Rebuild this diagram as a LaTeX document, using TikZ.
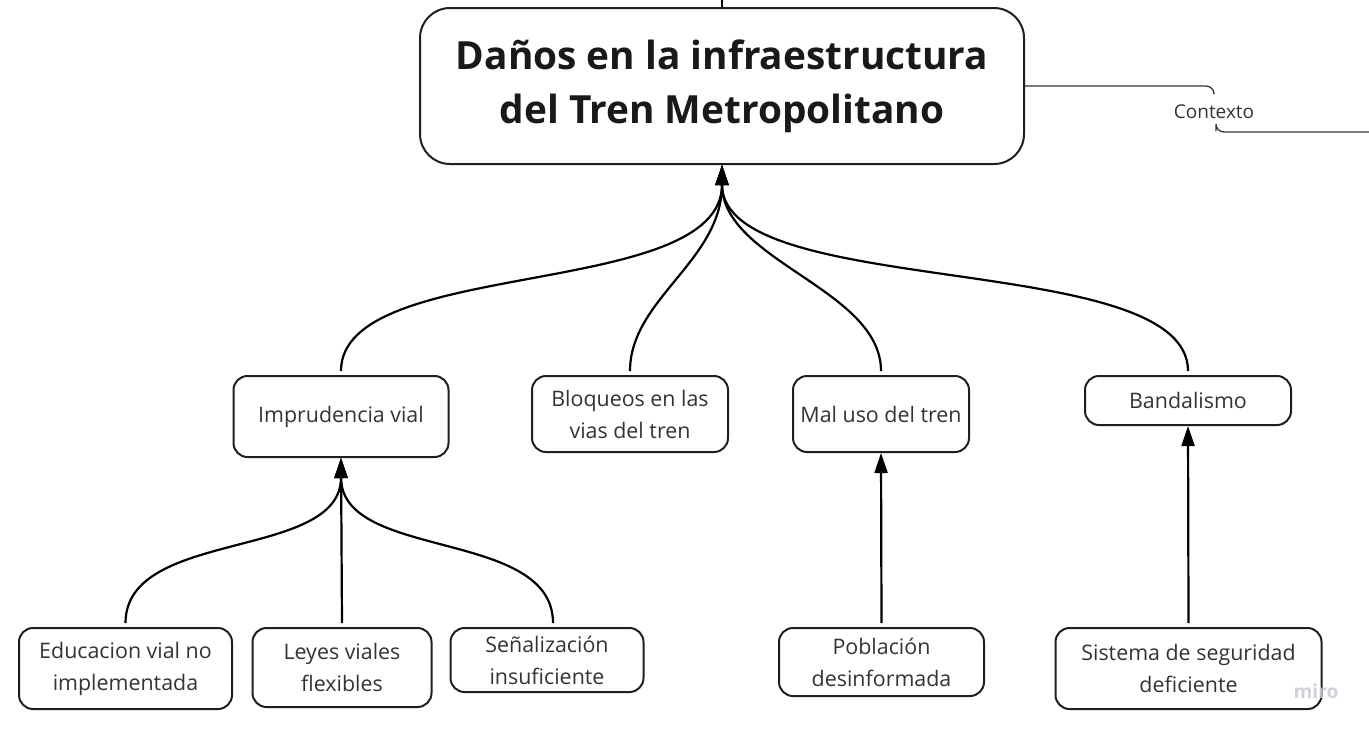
\documentclass[tikz,border=0pt]{standalone}
\usepackage{fontspec}
\setmainfont{Open Sans}
\usetikzlibrary{arrows.meta}
\newcommand\pxu{0.5pt}
\newcommand\bodyfont{\fontsize{10.7}{16}\selectfont}
\newcommand\titlefont{\fontsize{19.4}{27}\selectfont\bfseries}
\begin{document}
\begin{tikzpicture}[x=0.5pt,y=-0.5pt,
  box/.style={draw=black!88, line width=1pt, rounded corners=7pt, align=center,
    font=\bodyfont, text=black!80, inner sep=0pt},
  conn/.style={draw=black, line width=1.1pt, -{Triangle[length=10pt,width=6.5pt]}},
  brace/.style={draw=black!80, line width=0.65pt, rounded corners=4pt}]
\useasboundingbox (0,0) rectangle (1369,730);
% main
\node[box, rounded corners=15pt, font=\titlefont, text=black!90,
  minimum width=604*\pxu, minimum height=156*\pxu] (main) at (722,86)
  {Daños en la infraestructura\\del Tren Metropolitano};
% level 1
\node[box, minimum width=215*\pxu, minimum height=81*\pxu] (imp) at (341,416.5) {Imprudencia vial};
\node[box, minimum width=196*\pxu, minimum height=76*\pxu] (blo) at (630,414) {Bloqueos en las\\vias del tren};
\node[box, minimum width=176*\pxu, minimum height=76*\pxu] (mal) at (881,414) {Mal uso del tren};
\node[box, minimum width=206*\pxu, minimum height=49*\pxu] (ban) at (1188,400.5) {Bandalismo};
% level 2
\node[box, minimum width=213*\pxu, minimum height=81*\pxu] (edu) at (125.5,668.5) {Educacion vial no\\implementada};
\node[box, minimum width=179*\pxu, minimum height=79*\pxu] (ley) at (342,667.5) {Leyes viales\\flexibles};
\node[box, minimum width=193*\pxu, minimum height=64*\pxu] (sen) at (547,660) {Señalización\\insuficiente};
\node[box, minimum width=205*\pxu, minimum height=68*\pxu] (pob) at (881.5,662) {Población\\desinformada};
\node[box, minimum width=266*\pxu, minimum height=81*\pxu] (sis) at (1188.5,668.5) {Sistema de seguridad\\deficiente};
% top stub
\coordinate (top) at (722,0);
\draw[draw=black, line width=1pt] (main.north) -- (top);
% context bracket
\node[font=\fontsize{9.5}{11}\selectfont, text=black!80, inner sep=0pt] (ctx) at (1214,112) {Contexto};
\coordinate (ctxend) at (1369,132);
\draw[brace] (main.east) -- (1214,86) -- ([yshift=6pt]ctx.north -| 1214,0);
\draw[brace] ([xshift=1pt,yshift=-6pt]ctx.south) -- ([xshift=1pt]ctx.south |- ctxend) -- (ctxend);
% connectors to main
\draw[conn] ([yshift=2pt]imp.north) .. controls +(0,-115) and +(0,136) .. (main.south);
\draw[conn] ([yshift=2pt]blo.north) .. controls +(0,-72) and +(0,96) .. (main.south);
\draw[conn] ([yshift=2pt]mal.north) .. controls +(0,-82) and +(0,96) .. (main.south);
\draw[conn] ([yshift=2pt]ban.north) .. controls +(0,-122) and +(0,136) .. (main.south);
% level 2 connectors
\draw[conn] ([yshift=2pt]edu.north) .. controls +(0,-95) and +(0,103) .. (imp.south);
\draw[conn] ([yshift=2pt]ley.north) -- (imp.south);
\draw[conn] ([xshift=3pt,yshift=2pt]sen.north) .. controls +(0,-95) and +(0,103) .. (imp.south);
\draw[conn] ([yshift=2pt]pob.north) -- (mal.south);
\draw[conn] ([yshift=2pt]sis.north) -- (ban.south);
% watermark
\node[font=\fontsize{9.6}{10}\selectfont\bfseries, text={rgb,255:red,200;green,200;blue,210}, inner sep=0pt, opacity=0.85] (miro) at (1316,691) {miro};
\end{tikzpicture}
\end{document}
